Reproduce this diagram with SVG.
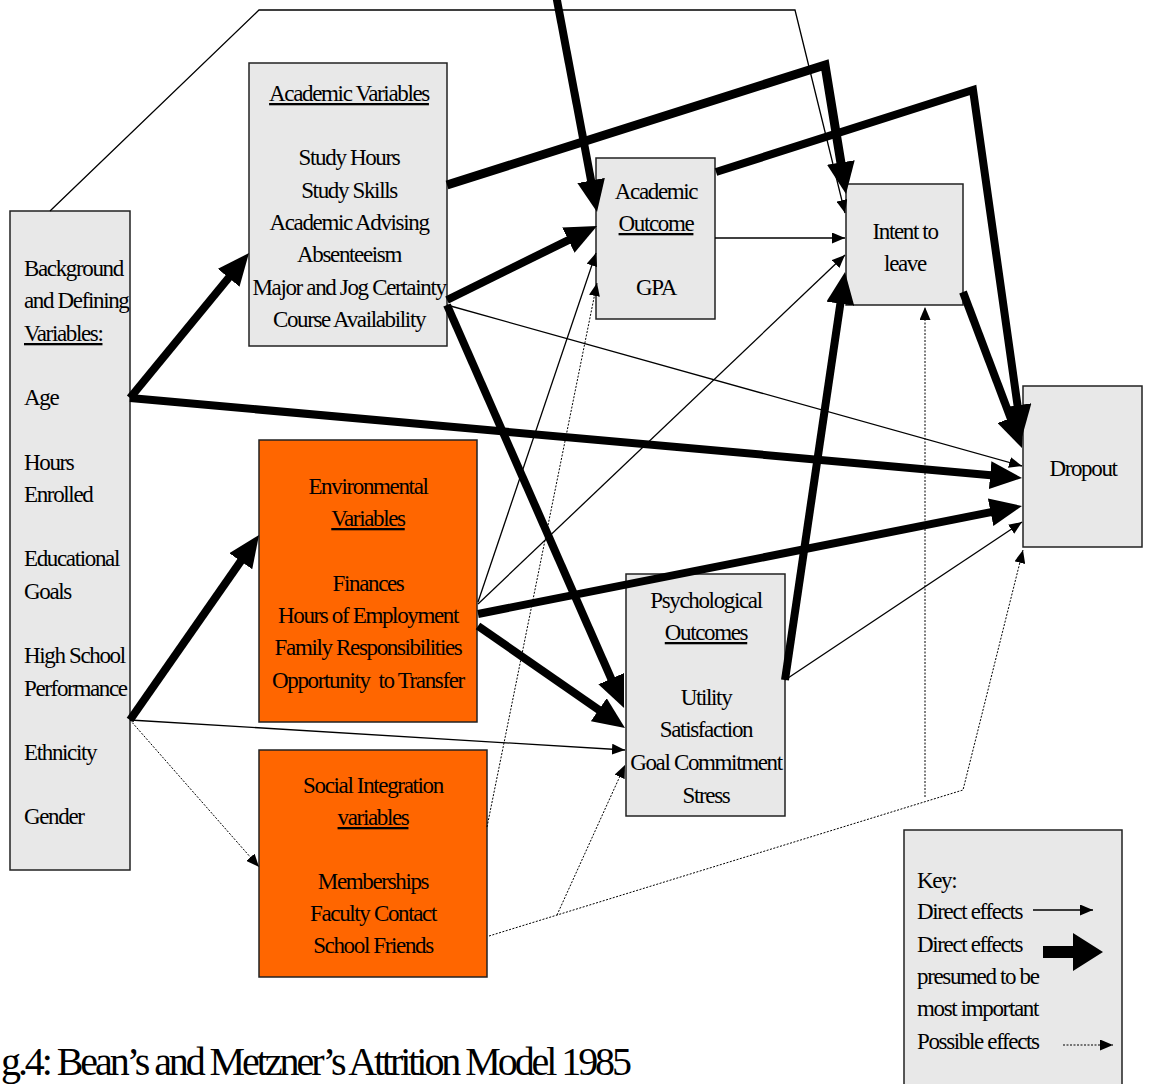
<svg xmlns="http://www.w3.org/2000/svg" width="1149" height="1084" viewBox="0 0 1149 1084">
<style>
.box{stroke:#222;stroke-width:1.5}
.g{fill:#e8e8e8}
.o{fill:#ff6600}
text{font-family:"Liberation Serif","Times New Roman",serif;font-size:23px;letter-spacing:-1.35px;fill:#000}
.c{text-anchor:middle}
.u{text-decoration:underline}
.thick{fill:none;stroke:#000;stroke-width:8;stroke-linejoin:miter}
.thin{fill:none;stroke:#000;stroke-width:1.3}
.dot{fill:none;stroke:#000;stroke-width:1;stroke-dasharray:2 1.5}
</style>
<defs>
<marker id="big" markerUnits="userSpaceOnUse" markerWidth="32" markerHeight="28" refX="12" refY="14" orient="auto"><path d="M0,0 L32,14 L0,28 Z" fill="#000"/></marker>
<marker id="sm" markerUnits="userSpaceOnUse" markerWidth="13" markerHeight="11" refX="13" refY="5.5" orient="auto"><path d="M0,0 L13,5.5 L0,11 Z" fill="#000"/></marker>
</defs>

<g id="background">
<rect class="box g" x="10" y="211" width="120" height="659"/>
<text x="24" y="276">Background</text>
<text x="24" y="308">and Defining</text>
<text x="24" y="341" class="u">Variables:</text>
<text x="24" y="405">Age</text>
<text x="24" y="470">Hours</text>
<text x="24" y="502">Enrolled</text>
<text x="24" y="566">Educational</text>
<text x="24" y="599">Goals</text>
<text x="24" y="663">High School</text>
<text x="24" y="696">Performance</text>
<text x="24" y="760">Ethnicity</text>
<text x="24" y="824">Gender</text>
</g>

<g id="academic-variables">
<rect class="box g" x="249" y="63" width="198" height="283"/>
<text class="c u" x="349" y="101">Academic Variables</text>
<text class="c" x="349" y="165">Study Hours</text>
<text class="c" x="349" y="198">Study Skills</text>
<text class="c" x="349" y="230">Academic Advising</text>
<text class="c" x="349" y="262">Absenteeism</text>
<text class="c" x="349" y="295">Major and Jog Certainty</text>
<text class="c" x="349" y="327">Course Availability</text>
</g>

<g id="academic-outcome">
<rect class="box g" x="596" y="158" width="119" height="161"/>
<text class="c" x="656" y="199">Academic</text>
<text class="c u" x="656" y="231">Outcome</text>
<text class="c" x="656" y="295">GPA</text>
</g>

<g id="intent-to-leave">
<rect class="box g" x="846" y="184" width="117" height="121"/>
<text class="c" x="905" y="239">Intent to</text>
<text class="c" x="905" y="271">leave</text>
</g>

<g id="dropout">
<rect class="box g" x="1023" y="386" width="119" height="161"/>
<text class="c" x="1083" y="476">Dropout</text>
</g>

<g id="environmental">
<rect class="box o" x="259" y="440" width="218" height="282"/>
<text class="c" x="368" y="494">Environmental</text>
<text class="c u" x="368" y="526">Variables</text>
<text class="c" x="368" y="591">Finances</text>
<text class="c" x="368" y="623">Hours of Employment</text>
<text class="c" x="368" y="655">Family Responsibilities</text>
<text class="c" x="368" y="688" xml:space="preserve">Opportunity  to Transfer</text>
</g>

<g id="social-integration">
<rect class="box o" x="259" y="750" width="228" height="227"/>
<text class="c" x="373" y="793">Social Integration</text>
<text class="c u" x="373" y="825">variables</text>
<text class="c" x="373" y="889">Memberships</text>
<text class="c" x="373" y="921">Faculty Contact</text>
<text class="c" x="373" y="953">School Friends</text>
</g>

<g id="psychological-outcomes">
<rect class="box g" x="626" y="574" width="159" height="242"/>
<text class="c" x="706" y="608">Psychological</text>
<text class="c u" x="706" y="640">Outcomes</text>
<text class="c" x="706" y="705">Utility</text>
<text class="c" x="706" y="737">Satisfaction</text>
<text class="c" x="706" y="770">Goal Commitment</text>
<text class="c" x="706" y="803">Stress</text>
</g>

<g id="connectors">
<path class="thick" d="M130,398 L236.3,268.5" marker-end="url(#big)"/>
<path class="thick" d="M130,398 L1002.1,476.2" marker-end="url(#big)"/>
<path class="thick" d="M130,720 L247.6,551.4" marker-end="url(#big)"/>
<path class="thick" style="stroke-width:9" d="M447,185 L825,65 L842.8,174.3" marker-end="url(#big)"/>
<path class="thick" d="M556,-5 L593.3,192.3" marker-end="url(#big)"/>
<path class="thick" d="M447,300 L579.1,234.8" marker-end="url(#big)"/>
<path class="thick" d="M716,172 L973,90 L1019.2,417.2" marker-end="url(#big)"/>
<path class="thick" d="M963,292 L1014.9,429.3" marker-end="url(#big)"/>
<path class="thick" d="M478,614 L1002.4,509.9" marker-end="url(#big)"/>
<path class="thick" d="M478,626 L608.6,716.6" marker-end="url(#big)"/>
<path class="thick" d="M447,305 L616,689.7" marker-end="url(#big)"/>
<path class="thick" d="M785,680 L842.1,291.8" marker-end="url(#big)"/>
<path class="thin" d="M50,211 L259,10 L795,10 L845,213" marker-end="url(#sm)"/>
<path class="thin" d="M715,238 L845,238" marker-end="url(#sm)"/>
<path class="thin" d="M478,604 L845,255" marker-end="url(#sm)"/>
<path class="thin" d="M478,602 L596,253" marker-end="url(#sm)"/>
<path class="thin" d="M447,305 L1022,466" marker-end="url(#sm)"/>
<path class="thin" d="M785,680 L1022,522" marker-end="url(#sm)"/>
<path class="thin" d="M130,720 L625,750" marker-end="url(#sm)"/>
<path class="dot" d="M130,720 L259,867" marker-end="url(#sm)"/>
<path class="dot" d="M487,827 L597,283" marker-end="url(#sm)"/>
<path class="dot" d="M489,936 L963,790 L1023,550" marker-end="url(#sm)"/>
<path class="dot" d="M557,915 L625,765" marker-end="url(#sm)"/>
<path class="dot" d="M925,797 L925,307" marker-end="url(#sm)"/>
</g>

<g id="key">
<rect class="box g" x="904" y="830" width="218" height="270"/>
<text x="917" y="888">Key:</text>
<text x="917" y="919">Direct effects</text>
<text x="917" y="952">Direct effects</text>
<text x="917" y="984">presumed to be</text>
<text x="917" y="1016">most important</text>
<text x="917" y="1049">Possible effects</text>
<path class="thin" d="M1033,910 L1093,910" marker-end="url(#sm)"/>
<polygon points="1043,946 1073,946 1073,933 1103,952 1073,971 1073,958 1043,958" fill="#000"/>
<path class="dot" d="M1063,1045 L1113,1045" marker-end="url(#sm)"/>
</g>

<text id="caption" x="1" y="1075" style="font-size:40px;letter-spacing:-3.07px">g.4: Bean’s and Metzner’s Attrition Model 1985</text>
</svg>
